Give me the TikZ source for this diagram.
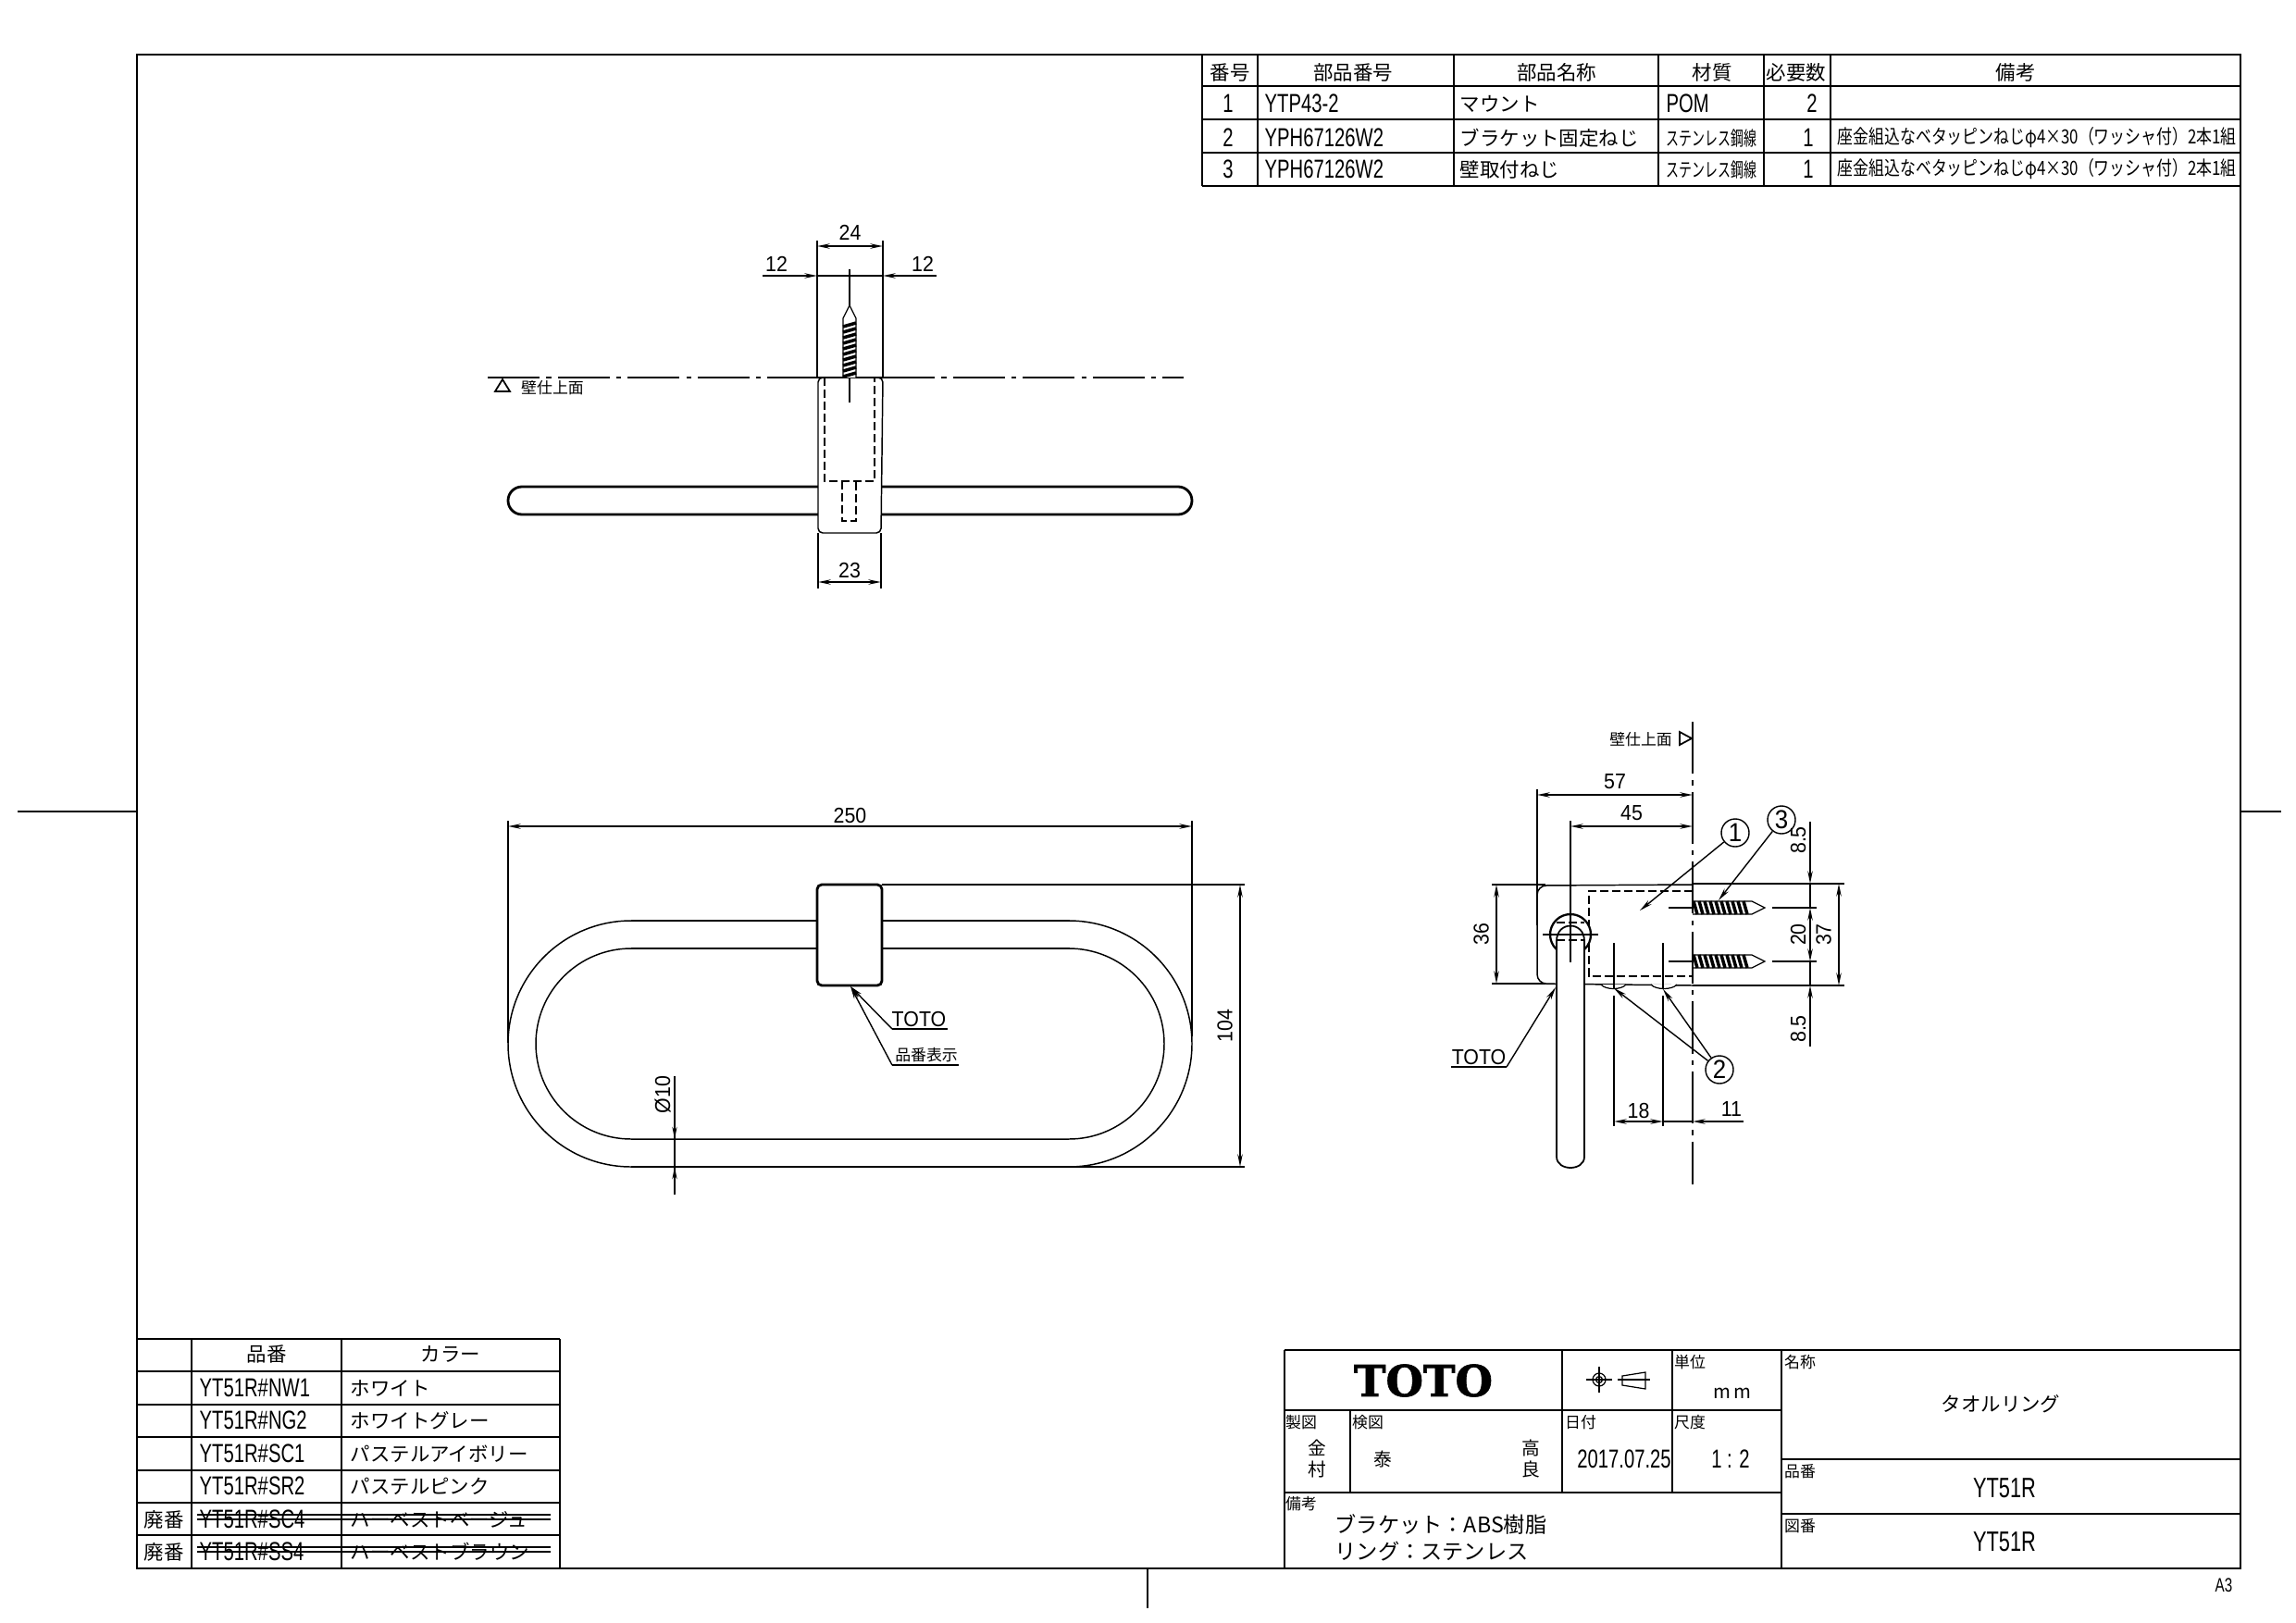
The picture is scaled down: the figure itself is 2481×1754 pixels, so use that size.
\documentclass[tikz,border=0pt]{standalone}
\usepackage{fontspec}
\usepackage{tikz}
\usetikzlibrary{positioning, arrows.meta}
\newfontfamily\cjk{Noto Sans CJK JP}
\newfontfamily\cjkn[FakeStretch=.66]{Noto Sans CJK JP}
\newfontfamily\cjkm[FakeStretch=.8]{Noto Sans CJK JP}
\newfontfamily\cad[FakeStretch=.72]{Liberation Sans}
\newfontfamily\dimfont[FakeStretch=.92]{Liberation Sans}
\newfontfamily\logofont[BoldFeatures={FakeBold=1.5}]{DejaVu Serif}
\begin{document}
\begin{tikzpicture}[
    x=.01cm, y=-.01cm,
    outline/.style={line width=.8pt},
    fine/.style={line width=.35pt},
    extline/.style={line width=.42pt},
    dimline/.style={line width=.6pt, {Stealth[length=3.8pt,width=1.5pt]}-{Stealth[length=3.8pt,width=1.5pt]}},
    onearrow/.style={line width=.6pt, -{Stealth[length=3.8pt,width=1.5pt]}},
    leader/.style={line width=.4pt, -{Stealth[length=4pt,width=1.6pt]}},
    hidden/.style={line width=.36pt, dash pattern=on 2.6pt off 1.1pt},
    centerl/.style={line width=.3pt},
    wall/.style={line width=.32pt, dash pattern=on 16pt off 2pt on 1.5pt off 2pt},
    dimtext/.style={font=\dimfont\fontsize{6.6}{7}\selectfont, inner sep=0pt},
    celltext/.style={font=\cad\fontsize{8}{9}\selectfont, inner sep=0pt},
    jptext/.style={font=\cjk\fontsize{6.1}{7}\selectfont, inner sep=0pt},
    jpnarrow/.style={font=\cjkn\fontsize{6}{7}\selectfont, inner sep=0pt},
    notetext/.style={font=\cjkm\fontsize{6}{7}\selectfont, inner sep=0pt},
    smalljp/.style={font=\cjk\fontsize{4.8}{5}\selectfont, inner sep=0pt},
    balloon/.style={circle, draw, line width=.4pt, minimum size=.3cm, inner sep=0pt, font=\dimfont\fontsize{8}{9}\selectfont}
]
\useasboundingbox (0,0) rectangle (2481,1754);

% Frame and margin ticks
\draw[outline] (148,59) rectangle (2421,1695);
\draw[extline] (19,877) -- (148,877);
\draw[extline] (2421,877) -- (2465,877);
\draw[extline] (1240,1695) -- (1240,1738);
\node[celltext, font=\cad\fontsize{6}{7}\selectfont] (sheet) at (2403,1713) {A3};

% Parts table
\foreach \ypos in {129,201} \draw[outline] (1299,\ypos) -- (2421,\ypos);
\foreach \ypos in {93,165} \draw[fine] (1299,\ypos) -- (2421,\ypos);
\foreach \xpos in {1571,1906} \draw[outline] (\xpos,59) -- (\xpos,201);
\foreach \xpos in {1299,1359,1792} \draw[fine] (\xpos,59) -- (\xpos,201);
\draw[extline] (1978,59) -- (1978,201);
\foreach \xpos/\txt [count=\i] in {1329/番号,1462/部品番号,1682/部品名称,1850/材質,1941/必要数,2178/備考}
    \node[jptext] (head\i) at (\xpos,78) {\txt};
\node[celltext] (no1) at (1327,112) {1};
\node[celltext, anchor=west] (pn1) at (1366,112) {YTP43-2};
\node[jptext, anchor=west] (name1) at (1577,112) {マウント};
\node[celltext, anchor=west] (mat1) at (1800,112) {POM};
\node[celltext] (qty1) at (1958,112) {2};
\foreach \ypos/\no/\txt in {149/2/ブラケット固定ねじ,183/3/壁取付ねじ} {
    \node[celltext] (no\no) at (1327,\ypos) {\no};
    \node[celltext, anchor=west] (pn\no) at (1366,\ypos) {YPH67126W2};
    \node[jptext, anchor=west] (name\no) at (1577,\ypos) {\txt};
    \node[jpnarrow, anchor=west] (mat\no) at (1800,\ypos) {ステンレス鋼線};
    \node[celltext] (qty\no) at (1954,\ypos) {1};
    \node[notetext, anchor=west] (note\no) at (1985,\ypos) {座金組込なベタッピンねじφ4×30（ワッシャ付）2本1組};
}

% Top view: ring
\draw[outline, rounded corners=.15cm, fill=white] (549,526) rectangle (1288,556);
\draw[extline, fill=white, rounded corners=.05cm] (884,408) -- (884,576) -- (952,576) -- (954,408) -- cycle;
\draw[outline] (883,408) -- (954,408);
\draw[hidden] (891,408) -- (891,520) -- (945,520) -- (945,408);
\draw[hidden] (910,520) -- (910,563) -- (925,563) -- (925,520);
\draw[wall] (527,408) -- (883,408);
\draw[wall] (954,408) -- (1279,408);
\draw[centerl] (918,291) -- (918,435);
\draw[extline] (883,260) -- (883,408);
\draw[extline] (954,260) -- (954,408);
\draw[extline] (884,576) -- (884,636);
\draw[extline] (952,576) -- (952,636);

% Top view: screw
\begin{scope}[shift={(918,408)}, rotate=90]
    \draw[fine, fill=white] (0,-7) -- (64,-7) -- (78,0) -- (64,7) -- (0,7);
    \foreach \t in {1,7,...,60} \draw[line width=1pt] (\t,-7) -- (\t+4,7);
\end{scope}

% Top view: dimensions
\draw[dimline] (883,266) -- node[above=1.5pt, dimtext] (d24) {24} (954,266);
\draw[onearrow] (824,298) -- (883,298);
\draw[onearrow] (1012,298) -- (954,298);
\draw[line width=.6pt] (883,298) -- (954,298);
\node[dimtext] (d12a) at (839,285) {12};
\node[dimtext] (d12b) at (997,285) {12};
\draw[dimline] (884,629) -- node[above=.8pt, dimtext] (d23) {23} (952,629);
\draw[line width=.5pt] (543,410) -- (551,423) -- (535,423) -- cycle;
\node[smalljp] (walla) at (597,419) {壁仕上面};

% Front view: ring and bracket
\draw[extline, rounded corners=1.33cm] (549,995) rectangle (1288,1261);
\draw[extline, rounded corners=1.03cm] (579,1025) rectangle (1258,1231);
\draw[outline] (682,995) -- (1156,995);
\draw[outline] (682,1025) -- (1156,1025);
\draw[outline] (682,1261) -- (1156,1261);
\draw[outline, fill=white, rounded corners=.05cm] (883,956) rectangle (953,1065);
\draw[extline] (549,887) -- (549,1127);
\draw[extline] (1288,887) -- (1288,1120);
\draw[extline] (953,956) -- (1345,956);
\draw[extline] (1156,1261) -- (1345,1261);
\draw[dimline] (549,893) -- node[above=.5pt, dimtext] (d250) {250} (1288,893);
\draw[dimline] (1340,956) -- node[left=2pt, dimtext, rotate=90, anchor=south] (d104) {104} (1340,1261);
\draw[extline] (729,1163) -- (729,1291);
\draw[onearrow, line width=.4pt] (729,1200) -- (729,1231);
\draw[onearrow, line width=.4pt] (729,1291) -- (729,1261);
\node[dimtext, rotate=90] (dia) at (716,1183) {Ø10};
\coordinate (markfront) at (919,1066);
\coordinate (kink1) at (964,1112);
\coordinate (kink2) at (964,1151);
\draw[leader] (kink1) -- (markfront);
\draw[leader] (kink2) -- (markfront);
\draw[extline] (kink1) -- (1024,1112);
\draw[extline] (kink2) -- (1036,1151);
\node[dimtext] (toto1) at (993,1101) {TOTO};
\node[smalljp] (mark1) at (1001,1140) {品番表示};

% Side view: bracket
\draw[extline, rounded corners=.1cm] (1829,956) -- (1661,957) -- (1661,1063) -- (1829,1065);
\draw[hidden] (1829,963) -- (1717,963) -- (1717,1055) -- (1829,1055);
\draw[fine, fill=white] (1730,1064) .. controls (1735,1070) and (1752,1070) .. (1757,1064);
\draw[fine, fill=white] (1784,1064) .. controls (1789,1070) and (1807,1070) .. (1812,1064);

% Side view: ring end
\draw[line width=.65pt, fill=white] (1697,1010) circle (22);
\draw[line width=.5pt, fill=white] (1682,1250) -- (1682,1017) .. controls (1682,995) and (1712,995) .. (1712,1017)
    -- (1712,1250) .. controls (1712,1266) and (1682,1266) .. (1682,1250) -- cycle;
\draw[hidden] (1682,997) -- (1712,997);
\draw[hidden] (1682,1016) -- (1712,1016);
\draw[centerl] (1667,1010) -- (1727,1010);

% Side view: screws
\foreach \ypos in {981,1039} {
    \begin{scope}[shift={(1829,\ypos)}]
        \draw[fine] (0,-7) -- (64,-7) -- (78,0) -- (64,7) -- (0,7);
        \foreach \t in {1,7,...,60} \draw[line width=1pt] (\t,-7) -- (\t+4,7);
    \end{scope}
    \draw[centerl] (1803,\ypos) -- (1829,\ypos);
    \draw[centerl] (1915,\ypos) -- (1963,\ypos);
}
\draw[wall] (1829,780) -- (1829,1280);

% Side view: dimensions
\draw[extline] (1661,853) -- (1661,1000);
\draw[extline] (1697,887) -- (1697,1040);
\draw[dimline] (1661,859) -- node[above=1.5pt, dimtext] (d57) {57} (1829,859);
\draw[dimline] (1697,893) -- node[above=1.5pt, dimtext] (d45) {45} (1829,893);
\draw[line width=.5pt] (1612,956) -- (1670,956);
\draw[line width=.5pt] (1612,1063) -- (1670,1063);
\draw[dimline] (1617,956) -- node[left=2pt, dimtext, rotate=90, anchor=south] (d36) {36} (1617,1063);
\draw[extline] (1829,955) -- (1993,955);
\draw[outline] (1829,1065) -- (1993,1065);
\draw[dimline] (1987,955) -- node[left=2pt, dimtext, rotate=90, anchor=south] (d37) {37} (1987,1065);
\draw[onearrow] (1956,888) -- (1956,955);
\draw[line width=.6pt] (1956,955) -- (1956,981);
\draw[dimline] (1956,981) -- (1956,1039);
\draw[line width=.6pt] (1956,1039) -- (1956,1065);
\draw[onearrow] (1956,1131) -- (1956,1065);
\node[dimtext, rotate=90] (d85a) at (1943,908) {8.5};
\node[dimtext, rotate=90] (d20) at (1943,1010) {20};
\node[dimtext, rotate=90] (d85b) at (1943,1112) {8.5};
\draw[line width=.6pt] (1744,1076) -- (1744,1217);
\draw[line width=.6pt] (1797,1076) -- (1797,1217);
\draw[centerl] (1744,1019) -- (1744,1068);
\draw[centerl] (1797,1019) -- (1797,1068);
\draw[dimline] (1744,1212) -- node[above=.5pt, dimtext] (d18) {18} (1797,1212);
\draw[line width=.6pt] (1797,1212) -- (1829,1212);
\draw[onearrow] (1884,1212) -- (1829,1212);
\node[dimtext] (d11) at (1871,1199) {11};

% Side view: balloons and leaders
\node[balloon] (b1) at (1875,900) {1};
\node[balloon] (b3) at (1925,886) {3};
\node[balloon] (b2) at (1858,1156) {2};
\coordinate (tip1) at (1772,984);
\coordinate (tip3) at (1857,973);
\coordinate (tip2a) at (1744,1068);
\coordinate (tip2b) at (1797,1069);
\draw[leader] (b1) -- (tip1);
\draw[leader] (b3) -- (tip3);
\draw[leader] (b2) -- (tip2a);
\draw[leader] (b2) -- (tip2b);
\coordinate (marka) at (1681,1067);
\coordinate (markb) at (1628,1153);
\draw[leader] (markb) -- (marka);
\draw[extline] (markb) -- (1568,1153);
\node[dimtext] (toto2) at (1598,1142) {TOTO};
\node[smalljp] (wallb) at (1773,799) {壁仕上面};
\draw[line width=.5pt] (1815,791) -- (1828,798) -- (1815,805) -- cycle;

% Colour table
\foreach \ypos in {1447,1518,1589,1624,1695} \draw[outline] (148,\ypos) -- (605,\ypos);
\foreach \ypos in {1482,1553,1659} \draw[extline] (148,\ypos) -- (605,\ypos);
\draw[outline] (207,1447) -- (207,1695);
\draw[extline] (369,1447) -- (369,1695);
\draw[outline] (605,1447) -- (605,1695);
\node[jptext] (hcode) at (288,1463) {品番};
\node[jptext] (hcol) at (487,1463) {カラー};
\foreach \ypos/\code/\col [count=\i] in {1500/NW1/ホワイト,1535/NG2/ホワイトグレー,1571/SC1/パステルアイボリー,1606/SR2/パステルピンク,1642/SC4/ハーベストベージュ,1677/SS4/ハーベストブラウン} {
    \node[celltext, anchor=west] (code\i) at (215,\ypos) {YT51R\#\code};
    \node[jptext, anchor=west] (col\i) at (378,\ypos) {\col};
}
\foreach \ypos/\i in {1642/5,1677/6} {
    \node[jptext] (void\i) at (177,\ypos) {廃番};
    \draw[fine] (213,\ypos-5) -- (595,\ypos-5);
    \draw[fine] (213,\ypos) -- (595,\ypos);
}

% Title block
\draw[outline] (1388,1459) -- (2421,1459);
\draw[outline] (1388,1524) -- (1925,1524);
\draw[extline] (1388,1613) -- (1925,1613);
\draw[outline] (1925,1577) -- (2421,1577);
\draw[outline] (1925,1636) -- (2421,1636);
\draw[outline] (1388,1459) -- (1388,1695);
\draw[outline] (1688,1459) -- (1688,1613);
\draw[fine] (1807,1459) -- (1807,1613);
\draw[outline] (1459,1524) -- (1459,1613);
\draw[extline] (1925,1459) -- (1925,1695);
\node[font=\logofont\bfseries\fontsize{13.2}{14}\selectfont, inner sep=0pt] (logo) at (1538,1492) {TOTO};
\draw[fine] (1728,1491) circle (7);
\draw[fine] (1728,1491) circle (3.5);
\draw[fine] (1714,1491) -- (1742,1491);
\draw[fine] (1728,1477) -- (1728,1505);
\draw[fine] (1753,1487) -- (1778,1483) -- (1778,1501) -- (1753,1497) -- cycle;
\draw[fine] (1748,1491) -- (1783,1491);
\foreach \xpos/\ypos/\txt [count=\i] in {1826/1472/単位,1406/1537/製図,1478/1537/検図,1708/1537/日付,1826/1537/尺度,1406/1625/備考,1945/1472/名称,1945/1590/品番,1945/1649/図番}
    \node[smalljp] (tag\i) at (\xpos,\ypos) {\txt};
\node[jptext, font=\cjk\fontsize{5.8}{7}\selectfont] (unit) at (1872,1506) {m\,m};
\node[smalljp, font=\cjk\fontsize{5.6}{6}\selectfont] (sign1) at (1423,1565) {金};
\node[smalljp, font=\cjk\fontsize{5.6}{6}\selectfont] (sign2) at (1423,1588) {村};
\node[smalljp, font=\cjk\fontsize{5.6}{6}\selectfont] (sign3) at (1494,1577) {泰};
\node[smalljp, font=\cjk\fontsize{5.6}{6}\selectfont] (sign4) at (1654,1565) {高};
\node[smalljp, font=\cjk\fontsize{5.6}{6}\selectfont] (sign5) at (1654,1588) {良};
\node[celltext] (date) at (1755,1577) {2017.07.25};
\node[jptext, font=\cad\fontsize{8}{9}\selectfont] (scale) at (1870,1577) {1 : 2};
\node[jptext, anchor=west, font=\cjk\fontsize{6.6}{7}\selectfont] (rem1) at (1442,1647) {ブラケット：ABS樹脂};
\node[jptext, anchor=west, font=\cjk\fontsize{6.6}{7}\selectfont] (rem2) at (1442,1677) {リング：ステンレス};
\node[jptext] (title) at (2162,1517) {タオルリング};
\node[celltext, font=\cad\fontsize{8.6}{9}\selectfont] (pno) at (2166,1608) {YT51R};
\node[celltext, font=\cad\fontsize{8.6}{9}\selectfont] (dno) at (2166,1666) {YT51R};

\end{tikzpicture}
\end{document}
